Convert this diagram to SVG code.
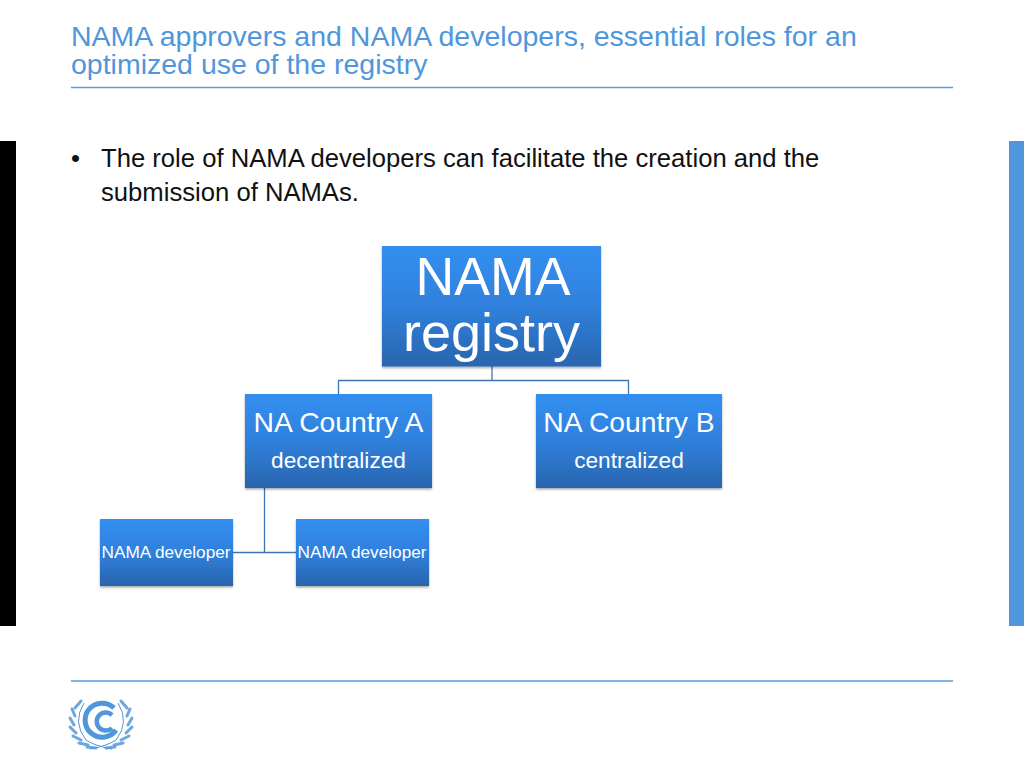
<svg xmlns="http://www.w3.org/2000/svg" width="1024" height="768" viewBox="0 0 1024 768">
<style>
text{font-family:"Liberation Sans",Arial,sans-serif}
.t{fill:#4f96dc;font-size:28.5px}
.b{fill:#111;font-size:25.650px}
.n{fill:#fff;text-anchor:middle}
.r{fill:url(#g);filter:url(#s)}
.c{fill:none;stroke:#3f74b4;stroke-width:1.3}
.rule{stroke:#5b9bdc;stroke-width:1.5}
.leaf{fill:none;stroke:#6ea6de;stroke-width:3;stroke-linecap:round}
</style>
<defs>
<linearGradient id="g" x1="0" y1="0" x2="0" y2="1"><stop offset="0" stop-color="#338ff0"/><stop offset="0.5" stop-color="#2f80dc"/><stop offset="1" stop-color="#2a65ae"/></linearGradient>
<filter id="s" x="-5%" y="-5%" width="110%" height="115%"><feDropShadow dx="0" dy="1.5" stdDeviation="1.3" flood-color="#000" flood-opacity="0.35"/></filter>
</defs>
<rect width="1024" height="768" fill="#fff"/>
<g id="title">
<text class="t" x="71" y="46">NAMA approvers and NAMA developers, essential roles for an</text>
<text class="t" x="71" y="73.500">optimized use of the registry</text>
<line class="rule" x1="71" y1="87.500" x2="953" y2="87.500"/>
</g>
<rect x="0" y="141" width="16" height="485" fill="#000"/>
<rect x="1009" y="141" width="15" height="485" fill="#4f96dc"/>
<g id="body">
<text class="b" x="71" y="167">•</text>
<text class="b" x="101" y="167">The role of NAMA developers can facilitate the creation and the</text>
<text class="b" x="101" y="201">submission of NAMAs.</text>
</g>
<g id="connectors">
<path class="c" d="M492 366V380M338.500 394V380.500H628.500V394"/>
<path class="c" d="M264.500 488V552.500M233 552.500H296"/>
</g>
<g id="registry"><rect class="r" x="382" y="246" width="219" height="120.500"/>
<text class="n" x="493" y="295" font-size="53.700">NAMA</text><text class="n" x="491.500" y="351" font-size="54">registry</text></g>
<g id="country-a"><rect class="r" x="245" y="394" width="187" height="94"/>
<text class="n" x="338.500" y="432" font-size="28.300">NA Country A</text><text class="n" x="338.500" y="468" font-size="22.700">decentralized</text></g>
<g id="country-b"><rect class="r" x="536" y="394" width="186" height="94"/>
<text class="n" x="629" y="432" font-size="28.300">NA Country B</text><text class="n" x="629" y="468" font-size="22.700">centralized</text></g>
<g id="developer-1"><rect class="r" x="100" y="519" width="133" height="67"/>
<text class="n" x="166" y="558" font-size="17.200">NAMA developer</text></g>
<g id="developer-2"><rect class="r" x="296" y="519" width="133" height="67"/>
<text class="n" x="362" y="558" font-size="17.200">NAMA developer</text></g>
<g id="footer">
<line class="rule" x1="71" y1="681" x2="953" y2="681"/>
<path d="M114 708A17 17 0 1 0 116 730" fill="none" stroke="#4f96dc" stroke-width="5"/>
<path d="M112 715A9 9 0 1 0 112 728" fill="none" stroke="#4f96dc" stroke-width="4.500"/>
<path class="leaf" d="M81 701L75 708M72 709L75 716M70 718L74 725M70 727L76 733M73 736L81 740M79 743L88 745M87 747L96 748"/>
<path class="leaf" d="M121 701L127 708M130 709L127 716M132 718L128 725M132 727L126 733M129 736L121 740M123 743L114 745M115 747L106 748"/>
<path d="M84 703Q72 722 86 740Q95 746 112 749M118 703Q130 722 116 740Q107 746 90 749" fill="none" stroke="#4f96dc" stroke-width="1"/>
</g>
</svg>
